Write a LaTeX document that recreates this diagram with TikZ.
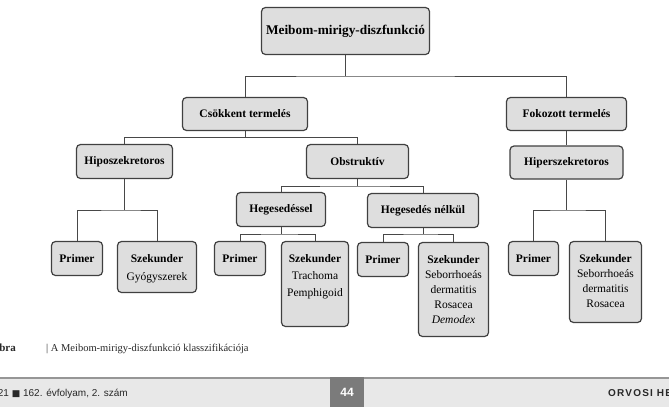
\documentclass[tikz,border=0pt]{standalone}
\usepackage{fontspec}
\setmainfont{Liberation Serif}
\setsansfont{Liberation Sans}
\newfontfamily\symfont{DejaVu Sans}
\newfontfamily\journalfont[LetterSpace=12]{Liberation Sans}
\definecolor{boxfill}{RGB}{222,222,222}
\definecolor{boxline}{RGB}{64,64,64}
\definecolor{connline}{RGB}{72,72,72}
\definecolor{footbg}{RGB}{232,232,232}
\definecolor{footline}{RGB}{150,150,150}
\definecolor{pagegray}{RGB}{123,123,123}
\definecolor{foottext}{RGB}{40,40,40}
\begin{document}
\begin{tikzpicture}[x=1pt,y=-1pt,
  box/.style={draw=boxline, fill=boxfill, rounded corners=4pt, line width=1.2pt,
    inner sep=0pt, font=\bfseries\fontsize{11.5}{14}\selectfont},
  conn/.style={draw=connline, line width=1pt},
  detail/.style={inner sep=0pt, align=center, anchor=north},
  foot/.style={inner sep=0pt, text=foottext}]
\useasboundingbox (0,0) rectangle (669,407);
\clip (0,0) rectangle (669,407);

% level 0
\node[box, minimum width=168, minimum height=47,
  font=\bfseries\fontsize{13.3}{16}\selectfont] (top) at (345.5,31) {Meibom-mirigy-diszfunkció};
% level 1
\node[box, minimum width=125, minimum height=33] (csok) at (245,114) {Csökkent termelés};
\node[box, minimum width=120, minimum height=33] (foko) at (566.5,114) {Fokozott termelés};
% level 2
\node[box, minimum width=96, minimum height=34] (hipo) at (124.5,161.5) {Hiposzekretoros};
\node[box, minimum width=102, minimum height=34] (obst) at (357.5,161.5) {Obstruktív};
\node[box, minimum width=113, minimum height=33] (hiper) at (566.5,162.5) {Hiperszekretoros};
% level 3
\node[box, minimum width=89, minimum height=34] (hegv) at (281,209.5) {Hegesedéssel};
\node[box, minimum width=111, minimum height=34] (hegn) at (423,210.5) {Hegesedés nélkül};
% leaves
\node[box, minimum width=51, minimum height=34] (p1) at (77,258.5) {Primer};
\node[box, minimum width=79, minimum height=51] (s1) at (157,267) {};
\node[box, minimum width=51, minimum height=34] (p2) at (240,258.5) {Primer};
\node[box, minimum width=67, minimum height=85] (s2) at (315,284) {};
\node[box, minimum width=51, minimum height=34] (p3) at (383,259.5) {Primer};
\node[box, minimum width=70, minimum height=94] (s3) at (453.5,289.5) {};
\node[box, minimum width=50, minimum height=34] (p4) at (533.5,258.5) {Primer};
\node[box, minimum width=72, minimum height=81] (s4) at (605.5,282) {};

% texts of the Szekunder boxes
\node[detail, font=\fontsize{11.5}{18}\selectfont] (t1) at ([yshift=-13pt]s1.north)
  {\textbf{Szekunder}\\Gyógyszerek};
\node[detail, font=\fontsize{11.5}{17}\selectfont] (t2) at ([yshift=-13.5pt]s2.north)
  {\textbf{Szekunder}\\Trachoma\\Pemphigoid};
\node[detail, font=\fontsize{11.5}{15.2}\selectfont] (t3) at ([yshift=-13pt]s3.north)
  {\textbf{Szekunder}\\Seborrhoeás\\dermatitis\\Rosacea\\\textit{Demodex}};
\node[detail, font=\fontsize{11.5}{15.3}\selectfont] (t4) at ([yshift=-13pt]s4.north)
  {\textbf{Szekunder}\\Seborrhoeás\\dermatitis\\Rosacea};

% junctions
\coordinate (j0) at (345.5,76);
\coordinate (j1) at (245,137.5);
\coordinate (j2) at (124.5,210);
\coordinate (j3) at (357.5,186);
\coordinate (j4) at (281,234);
\coordinate (j5) at (423,234);
\coordinate (j6) at (566.5,210);

% connectors
\draw[conn] (top.south) -- (j0);
\draw[conn] (csok.north) |- (j0) -| (foko.north);
\draw[conn] (csok.south) -- (j1);
\draw[conn] (hipo.north) |- (j1) -| (obst.north);
\draw[conn] (foko.south) -- (hiper.north);
\draw[conn] (hipo.south) -- (j2);
\draw[conn] (p1.north) |- (j2) -| (s1.north);
\draw[conn] (obst.south) -- (j3);
\draw[conn] (hegv.north) |- (j3) -| (hegn.north);
\draw[conn] (hegv.south) -- (j4);
\draw[conn] (p2.north) |- (j4) -| (s2.north);
\draw[conn] (hegn.south) -- (j5);
\draw[conn] (p3.north) |- (j5) -| (s3.north);
\draw[conn] (hiper.south) -- (j6);
\draw[conn] (p4.north) |- (j6) -| (s4.north);

% caption
\node[foot, anchor=base east, font=\bfseries\fontsize{11}{12}\selectfont] (capa) at (16,351) {ábra};
\node[foot, anchor=base west, font=\fontsize{10.5}{12}\selectfont] (capb) at (46,351)
  {| A Meibom-mirigy-diszfunkció klasszifikációja};

% footer
\fill[footbg] (0,378) rectangle (669,407);
\draw[footline, line width=2pt] (0,378) -- (669,378);
\node[fill=pagegray, minimum width=34, minimum height=30, inner sep=0pt, text=white,
  font=\sffamily\bfseries\fontsize{12}{12}\selectfont, anchor=north] (pg) at (347,377) {44};
\node[foot, anchor=base east, font=\sffamily\fontsize{10}{12}\selectfont] (fl) at (128,396)
  {2021 {\symfont\fontsize{9}{9}\selectfont ■} 162. évfolyam, 2. szám};
\node[foot, anchor=base west, font=\journalfont\bfseries\fontsize{10}{12}\selectfont] (fr) at (608,396)
  {ORVOSI HETILAP};
\end{tikzpicture}
\end{document}
